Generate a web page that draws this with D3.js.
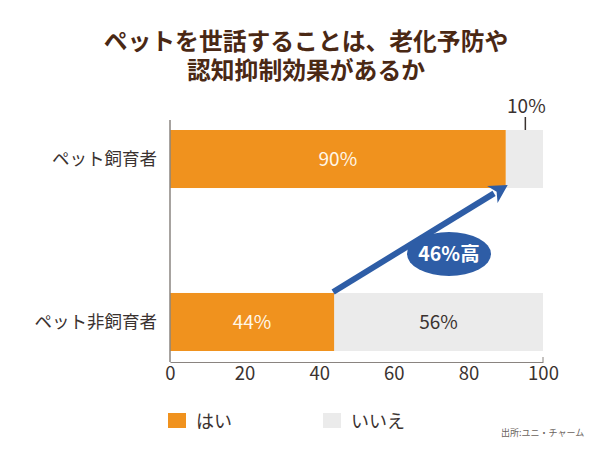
<!DOCTYPE html>
<html><head><meta charset="utf-8">
<script src="https://cdn.jsdelivr.net/npm/d3@7"></script>
<style>body{margin:0;background:#fff;}svg{display:block;font-family:"Noto Sans CJK JP","Noto Sans",sans-serif;}</style>
</head><body>
<svg id="c" width="600" height="450"></svg>
<script>
const categories = ["ペット飼育者", "ペット非飼育者"];
const yesValues = [90, 44];
const noValues = [10, 56];
const seriesNames = ["はい", "いいえ"];
const xTicks = [0, 20, 40, 60, 80, 100];
const titleLines = ["ペットを世話することは、老化予防や", "認知抑制効果があるか"];
const badgeText = "46%高";
const sourceText = "出所:ユニ・チャーム";

const colors = {yes: "#F0921E", no: "#EBEBEB", text: "#3a3230", title: "#4a2814", blue: "#2E5DA6", axis: "#8a8480"};
const svg = d3.select("#c");
const x = d3.scaleLinear().domain([0, 100]).range([170, 543]);
const y = d3.scaleBand().domain(categories).range([130, 351]).paddingInner(0.644).paddingOuter(0);

// title (one text element, two lines)
const title = svg.append("text").attr("text-anchor", "middle").attr("font-size", 23.8)
  .attr("font-weight", "bold").attr("fill", colors.title);
title.selectAll("tspan").data(titleLines).join("tspan")
  .attr("x", 306).attr("y", (d, i) => 50 + i * 29).text(d => d);

// bars
const rows = categories.map((c, i) => ({c, yes: yesValues[i], no: noValues[i]}));
svg.selectAll("rect.no").data(rows).join("rect")
  .attr("x", d => x(d.yes)).attr("y", d => y(d.c))
  .attr("width", d => x(d.yes + d.no) - x(d.yes)).attr("height", y.bandwidth())
  .attr("fill", colors.no);
svg.selectAll("rect.yes").data(rows).join("rect")
  .attr("x", x(0)).attr("y", d => y(d.c))
  .attr("width", d => x(d.yes) - x(0)).attr("height", y.bandwidth())
  .attr("fill", colors.yes);

// value labels
svg.selectAll("text.yes").data(rows).join("text")
  .attr("x", d => (x(0) + x(d.yes)) / 2).attr("y", d => y(d.c) + y.bandwidth() / 2 + 7)
  .attr("text-anchor", "middle").attr("font-size", 19).attr("fill", "#fff7e8")
  .text(d => d.yes + "%");
svg.selectAll("text.no").data(rows.filter(d => d.no > 20)).join("text")
  .attr("x", d => (x(d.yes) + x(100)) / 2).attr("y", d => y(d.c) + y.bandwidth() / 2 + 7)
  .attr("text-anchor", "middle").attr("font-size", 19).attr("fill", colors.text)
  .text(d => d.no + "%");
// small segment callout
rows.filter(d => d.no <= 20).forEach(d => {
  const cx = (x(d.yes) + x(100)) / 2 + 1;
  svg.append("line").attr("x1", cx).attr("x2", cx).attr("y1", y(d.c) - 13).attr("y2", y(d.c))
    .attr("stroke", colors.text).attr("stroke-width", 1.5);
  svg.append("text").attr("x", cx + 1).attr("y", y(d.c) - 17).attr("text-anchor", "middle")
    .attr("font-size", 19).attr("fill", colors.text).text(d.no + "%");
});

// category labels
svg.selectAll("text.cat").data(categories).join("text")
  .attr("x", 157).attr("y", d => y(d) + y.bandwidth() / 2 + 6)
  .attr("text-anchor", "end").attr("font-size", 17.5).attr("fill", colors.text).text(d => d);

// axes
const axisY = 362;
svg.append("line").attr("x1", x(0)).attr("x2", x(0)).attr("y1", 120).attr("y2", axisY)
  .attr("stroke", colors.axis).attr("stroke-width", 1.5);
const xa = svg.append("g").attr("transform", `translate(0,${axisY})`)
  .call(d3.axisBottom(x).tickValues(xTicks).tickSize(0).tickPadding(5));
xa.select(".domain").attr("stroke", colors.axis).attr("stroke-width", 1.2);
xa.selectAll("text").attr("font-size", 18.5).attr("fill", colors.text)
  .attr("font-family", "'Noto Sans CJK JP','Noto Sans',sans-serif");
svg.append("line").attr("x1", x(100)).attr("x2", x(100)).attr("y1", axisY - 5).attr("y2", axisY)
  .attr("stroke", colors.axis);

// arrow
const sx = x(yesValues[1]) - 1, sy = y(categories[1]) - 1;
const ex = x(yesValues[0]) + 2, ey = y(categories[0]) + y.bandwidth() - 3;
const ang = Math.atan2(ey - sy, ex - sx);
const headLen = 18, headW = 10;
const bx = ex - headLen * Math.cos(ang), by = ey - headLen * Math.sin(ang);
svg.append("line").attr("x1", sx).attr("y1", sy).attr("x2", bx + 2 * Math.cos(ang)).attr("y2", by + 2 * Math.sin(ang))
  .attr("stroke", colors.blue).attr("stroke-width", 6);
const px = -Math.sin(ang), py = Math.cos(ang);
svg.append("path").attr("d", `M${ex},${ey}L${bx + px * headW},${by + py * headW}L${bx + 5 * Math.cos(ang)},${by + 5 * Math.sin(ang)}L${bx - px * headW},${by - py * headW}Z`)
  .attr("fill", colors.blue);

// badge
svg.append("ellipse").attr("cx", 449).attr("cy", 254).attr("rx", 42).attr("ry", 22).attr("fill", colors.blue);
svg.append("text").attr("x", 449).attr("y", 261).attr("text-anchor", "middle")
  .attr("font-size", 19.5).attr("font-weight", "bold").attr("fill", "#fff").text(badgeText);

// legend
const legend = [{n: seriesNames[0], c: colors.yes, x: 168}, {n: seriesNames[1], c: colors.no, x: 323}];
legend.forEach(l => {
  svg.append("rect").attr("x", l.x).attr("y", 413).attr("width", 18).attr("height", 15).attr("fill", l.c);
  svg.append("text").attr("x", l.x + 28).attr("y", 428).attr("font-size", 18).attr("fill", colors.text).text(l.n);
});
svg.append("text").attr("x", 501).attr("y", 436).attr("font-size", 9).attr("fill", "#6a625c").text(sourceText);
</script>
</body></html>
